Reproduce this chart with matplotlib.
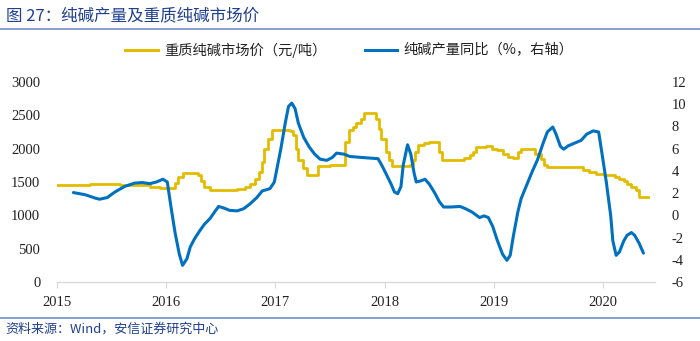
import matplotlib
matplotlib.use("Agg")
import matplotlib.pyplot as plt
from matplotlib.lines import Line2D

plt.rcParams['font.family'] = ['Noto Sans CJK SC', 'DejaVu Sans']

# Heavy soda ash market price (yuan/ton), weekly steps, decimal years
price_t = [2015.00, 2015.30, 2015.58, 2015.85, 2015.94, 2016.08, 2016.11, 2016.15,
           2016.29, 2016.32, 2016.35, 2016.40, 2016.65, 2016.72, 2016.77, 2016.81,
           2016.85, 2016.88, 2016.90, 2016.93, 2016.97, 2017.13, 2017.16, 2017.19,
           2017.21, 2017.25, 2017.29, 2017.39, 2017.50, 2017.62, 2017.64, 2017.67,
           2017.71, 2017.74, 2017.78, 2017.81, 2017.89, 2017.92, 2017.95, 2017.97,
           2018.01, 2018.04, 2018.07, 2018.23, 2018.26, 2018.28, 2018.31, 2018.36,
           2018.41, 2018.48, 2018.50, 2018.53, 2018.69, 2018.73, 2018.78, 2018.81,
           2018.84, 2018.93, 2018.98, 2019.03, 2019.08, 2019.13, 2019.18, 2019.22,
           2019.25, 2019.35, 2019.38, 2019.43, 2019.46, 2019.49, 2019.78, 2019.82,
           2019.87, 2019.94, 2020.01, 2020.11, 2020.15, 2020.19, 2020.22, 2020.26,
           2020.30, 2020.33, 2020.41]
price_v = [1450, 1470, 1450, 1420, 1410, 1480, 1580, 1640,
           1600, 1520, 1430, 1380, 1390, 1420, 1470, 1550,
           1650, 1800, 2000, 2150, 2280, 2270, 2200, 2000,
           1830, 1710, 1600, 1740, 1750, 1760, 2100, 2280,
           2330, 2380, 2450, 2530, 2530, 2450, 2300, 2150,
           1950, 1830, 1740, 1750, 1830, 1950, 2050, 2080,
           2100, 2100, 1950, 1830, 1830, 1860, 1900, 1950,
           2030, 2040, 2000, 1980, 1920, 1880, 1860, 1950,
           2000, 1990, 1920, 1850, 1760, 1730, 1730, 1680,
           1650, 1620, 1600, 1580, 1550, 1520, 1470, 1430,
           1380, 1280, 1270]

# Soda ash output, year-on-year (%)
yoy_t = [2015.15, 2015.26, 2015.35, 2015.39, 2015.46, 2015.53, 2015.62, 2015.71,
         2015.78, 2015.85, 2015.91, 2015.97, 2016.01, 2016.04, 2016.08, 2016.12,
         2016.15, 2016.19, 2016.22, 2016.26, 2016.31, 2016.35, 2016.40, 2016.45,
         2016.48, 2016.53, 2016.58, 2016.65, 2016.71, 2016.77, 2016.83, 2016.88,
         2016.95, 2016.99, 2017.02, 2017.05, 2017.09, 2017.12, 2017.15, 2017.18,
         2017.21, 2017.26, 2017.31, 2017.36, 2017.41, 2017.47, 2017.52, 2017.56,
         2017.63, 2017.68, 2017.80, 2017.94, 2017.98, 2018.02, 2018.06, 2018.09,
         2018.12, 2018.15, 2018.17, 2018.21, 2018.24, 2018.27, 2018.29, 2018.33,
         2018.37, 2018.41, 2018.46, 2018.50, 2018.54, 2018.61, 2018.69, 2018.74,
         2018.80, 2018.87, 2018.91, 2018.95, 2018.99, 2019.03, 2019.08, 2019.12,
         2019.15, 2019.18, 2019.22, 2019.25, 2019.30, 2019.35, 2019.40, 2019.45,
         2019.49, 2019.54, 2019.57, 2019.61, 2019.64, 2019.68, 2019.74, 2019.80,
         2019.85, 2019.91, 2019.96, 2019.99, 2020.03, 2020.07, 2020.09, 2020.12,
         2020.15, 2020.19, 2020.22, 2020.26, 2020.29, 2020.33, 2020.37]
yoy_v = [2.05, 1.85, 1.55, 1.45, 1.6, 2.1, 2.6, 2.9,
         2.95, 2.85, 3.0, 3.25, 3.0, 1.0, -1.5, -3.5,
         -4.5, -3.9, -2.85, -2.1, -1.35, -0.8, -0.3, 0.4,
         0.8, 0.65, 0.45, 0.4, 0.6, 1.05, 1.6, 2.2,
         2.4, 3.0, 4.5, 6.0, 8.3, 9.8, 10.1, 9.6,
         8.3, 7.0, 6.15, 5.5, 5.05, 4.95, 5.2, 5.6,
         5.5, 5.3, 5.2, 5.1, 4.4, 3.6, 2.8, 2.1,
         1.95, 2.6, 4.5, 6.35, 5.5, 3.8, 3.0, 3.1,
         3.25, 2.8, 2.0, 1.25, 0.75, 0.75, 0.8, 0.6,
         0.3, -0.2, -0.05, -0.2, -1.0, -2.2, -3.5, -4.05,
         -3.6, -1.8, 0.3, 1.5, 2.7, 3.9, 5.0, 6.45,
         7.5, 7.95, 7.3, 6.2, 5.95, 6.25, 6.5, 6.75,
         7.3, 7.6, 7.5, 5.6, 3.0, 0.0, -2.3, -3.6,
         -3.3, -2.3, -1.8, -1.55, -1.8, -2.5, -3.4]

years = [2015, 2016, 2017, 2018, 2019, 2020]
left_ticks = [0, 500, 1000, 1500, 2000, 2500, 3000]
right_ticks = [-6, -4, -2, 0, 2, 4, 6, 8, 10, 12]

title = "图 27：纯碱产量及重质纯碱市场价"
price_label = "重质纯碱市场价（元/吨）"
yoy_label = "纯碱产量同比（%，右轴）"
source = "资料来源：Wind，安信证券研究中心"

YELLOW = "#E2BC00"
BLUE = "#0070C0"
NAVY = "#1F3F8F"
RULE = "#7F98CC"
GRID = "#D9D9D9"
TICKFONT = dict(family="Liberation Serif", size=10.5, color="#222222")

fig = plt.figure(figsize=(7.0, 3.41), dpi=100)
W, H = 700, 341
ax = fig.add_axes([57 / W, 1 - 282 / H, (655 - 57) / W, 200 / H])
ax2 = ax.twinx()

ax.step(price_t, price_v, where="post", color=YELLOW, lw=2.0, zorder=3)
ax2.plot(yoy_t, yoy_v, color=BLUE, lw=2.2, solid_joinstyle="round",
         solid_capstyle="round", zorder=4)

ax.set_xlim(2015.0, 2020.476)
ax.set_ylim(0, 3000)
ax2.set_ylim(-6, 12)
ax.set_xticks(years)
ax.set_xticklabels([str(y) for y in years], **TICKFONT)
ax.set_yticks(left_ticks)
ax.set_yticklabels([str(v) for v in left_ticks], **TICKFONT)
ax2.set_yticks(right_ticks)
ax2.set_yticklabels([str(v) for v in right_ticks], **TICKFONT)

for a in (ax, ax2):
    for s in ("top", "left", "right"):
        a.spines[s].set_visible(False)
    a.spines["bottom"].set_color(GRID)
    a.spines["bottom"].set_linewidth(1.0)
ax2.spines["bottom"].set_visible(False)
ax.tick_params(axis="x", length=4, color=GRID, pad=6)
ax.tick_params(axis="y", length=0, pad=12)
ax2.tick_params(axis="y", length=0, pad=12)
ax.patch.set_visible(False)

# Header, rules and legend
fig.text(6 / W, 1 - 16 / H, title, color=NAVY, fontsize=11.9, va="center", ha="left")
fig.add_artist(Line2D([0, 1], [1 - 29 / H, 1 - 29 / H], color=RULE, lw=1.3))
fig.add_artist(Line2D([0, 1], [1 - 318 / H, 1 - 318 / H], color=RULE, lw=1.3))
fig.text(5 / W, 1 - 329 / H, source, color=NAVY, fontsize=9.4, va="center", ha="left")

fig.add_artist(Line2D([125 / W, 158 / W], [1 - 50 / H] * 2, color=YELLOW, lw=2.2))
fig.text(164 / W, 1 - 50 / H, price_label, fontsize=10.3, va="center", ha="left", color="#222222")
fig.add_artist(Line2D([365 / W, 397 / W], [1 - 50 / H] * 2, color=BLUE, lw=2.2))
fig.text(403 / W, 1 - 50 / H, yoy_label, fontsize=10.3, va="center", ha="left", color="#222222")

fig.savefig("out.png", dpi=100)
